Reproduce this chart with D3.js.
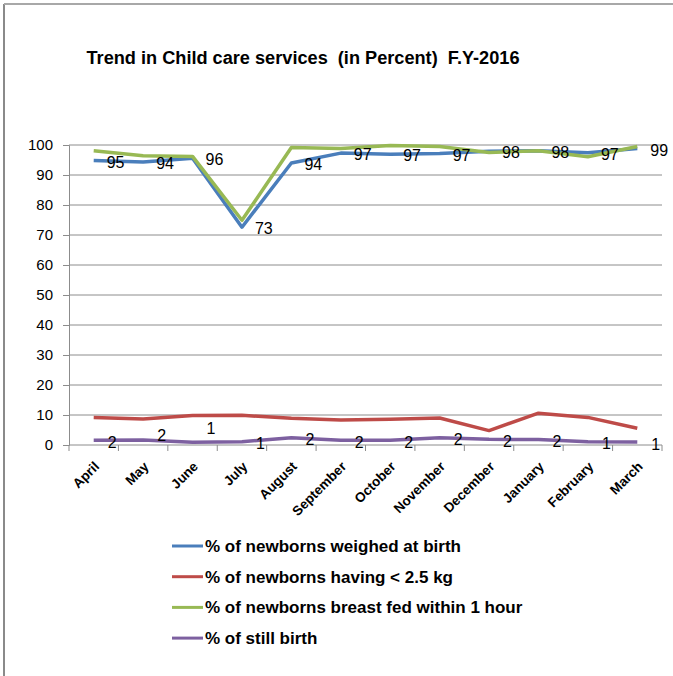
<!DOCTYPE html>
<html>
<head>
<meta charset="utf-8">
<script src="https://cdn.jsdelivr.net/npm/d3@7"></script>
<style>
  html, body { margin: 0; padding: 0; background: #fff; }
  svg { display: block; }
  text { white-space: pre; }
</style>
</head>
<body>
<svg id="chart" width="673" height="676"></svg>
<script>
// ---- data ----
const months = ["April","May","June","July","August","September","October","November","December","January","February","March"];
const weighed = [94.8, 94.3, 95.6, 72.6, 94.0, 97.3, 96.9, 97.2, 97.9, 98.1, 97.4, 98.8];
const lowWeight = [9.2, 8.7, 9.8, 9.9, 8.9, 8.3, 8.6, 9.0, 4.8, 10.6, 9.2, 5.6];
const breastFed = [98.1, 96.4, 96.2, 74.9, 99.2, 98.8, 99.8, 99.5, 97.5, 98.1, 96.1, 99.5];
const stillBirth = [1.6, 1.7, 0.9, 1.1, 2.4, 1.6, 1.6, 2.4, 1.9, 1.8, 1.1, 1.0];
const seriesNames = [
  "% of newborns weighed at birth",
  "% of newborns having < 2.5 kg",
  "% of newborns breast fed within 1 hour",
  "% of still birth"
];
const yTicks = [0,10,20,30,40,50,60,70,80,90,100];
const titleText = "Trend in Child care services  (in Percent)  F.Y-2016";

// ---- layout ----
const colors = ["#4a7ebb", "#be4b48", "#98b954", "#7d60a0"];
const series = [weighed, lowWeight, breastFed, stillBirth];
const svg = d3.select("#chart");
const plot = {left: 69, right: 662, top: 145, bottom: 445};
const font = "Liberation Sans, Arial, sans-serif";

// outer border
svg.append("line").attr("x1",4).attr("x2",4).attr("y1",4).attr("y2",676)
  .attr("stroke","#8a8a8a").attr("stroke-width",2);
svg.append("line").attr("x1",4).attr("x2",673).attr("y1",4).attr("y2",4)
  .attr("stroke","#a8a8a8").attr("stroke-width",2);

// title
svg.append("text").attr("x", 303).attr("y", 64).attr("text-anchor","middle")
  .attr("xml:space","preserve")
  .attr("font-family",font).attr("font-weight","bold")
  .attr("font-size", 17.5).attr("textLength", 433).attr("lengthAdjust","spacingAndGlyphs")
  .attr("fill","#000").text(titleText);

const x = d3.scaleBand().domain(months).range([plot.left, plot.right]);
const y = d3.scaleLinear().domain([0,100]).range([plot.bottom, plot.top]);
const cx = m => x(m) + x.bandwidth()/2;

// gridlines
svg.append("g").selectAll("line").data(yTicks.filter(d => d > 0)).join("line")
  .attr("x1", plot.left).attr("x2", plot.right)
  .attr("y1", d => y(d)).attr("y2", d => y(d))
  .attr("stroke","#8c8c8c").attr("stroke-width",1);

// y axis
const yAxis = svg.append("g").attr("transform", `translate(${plot.left},0)`)
  .call(d3.axisLeft(y).tickValues(yTicks).tickSize(6).tickPadding(10));
yAxis.select(".domain").attr("stroke","#8c8c8c");
yAxis.selectAll(".tick line").attr("stroke","#8c8c8c");
yAxis.selectAll(".tick text").attr("font-family",font)
  .attr("font-size",15).attr("fill","#000");

// x axis
const xAxisG = svg.append("g");
xAxisG.append("line").attr("x1", plot.left).attr("x2", plot.right)
  .attr("y1", plot.bottom).attr("y2", plot.bottom).attr("stroke","#8c8c8c");
xAxisG.selectAll("line.tk").data(months.concat(["__end"])).join("line").attr("class","tk")
  .attr("x1", (d,i) => i < months.length ? x(d) : plot.right)
  .attr("x2", (d,i) => i < months.length ? x(d) : plot.right)
  .attr("y1", plot.bottom).attr("y2", plot.bottom + 6).attr("stroke","#8c8c8c");
xAxisG.selectAll("text").data(months).join("text")
  .attr("transform", d => `translate(${cx(d)+3},${plot.bottom + 19}) rotate(-45)`)
  .attr("text-anchor","end").attr("dy","0.35em")
  .attr("font-family",font).attr("font-weight","bold")
  .attr("font-size",13.5).attr("fill","#000").text(d => d);

// lines
const lineGen = d3.line().x((d,i) => cx(months[i])).y(d => y(d));
series.forEach((s, k) => {
  svg.append("path").datum(s).attr("d", lineGen).attr("fill","none")
    .attr("stroke", colors[k]).attr("stroke-width", 3.5)
    .attr("stroke-linejoin","round").attr("stroke-linecap","butt");
});

// data labels (right of point)
svg.append("g").selectAll("text").data(weighed).join("text")
  .attr("x", (d,i) => cx(months[i]) + 13).attr("y", d => y(d) + 1.5)
  .attr("dy","0.35em").attr("font-family",font).attr("font-size",16).attr("fill","#000")
  .text(d => Math.round(d));
const stillNudge = {1: -7, 2: -16};
svg.append("g").selectAll("text").data(stillBirth).join("text")
  .attr("x", (d,i) => cx(months[i]) + 14).attr("y", (d,i) => y(d) + 2 + (stillNudge[i] || 0))
  .attr("dy","0.35em").attr("font-family",font).attr("font-size",16).attr("fill","#000")
  .text(d => Math.round(d));

// legend
const lg = svg.append("g");
seriesNames.forEach((name, k) => {
  const yy = 546 + k * 30.7;
  lg.append("line").attr("x1",172).attr("x2",203).attr("y1",yy).attr("y2",yy)
    .attr("stroke", colors[k]).attr("stroke-width",3);
  lg.append("text").attr("x",205).attr("y",yy).attr("dy","0.35em")
    .attr("font-family",font).attr("font-weight","bold")
    .attr("font-size",17).attr("fill","#000").text(name);
});
</script>
</body>
</html>
